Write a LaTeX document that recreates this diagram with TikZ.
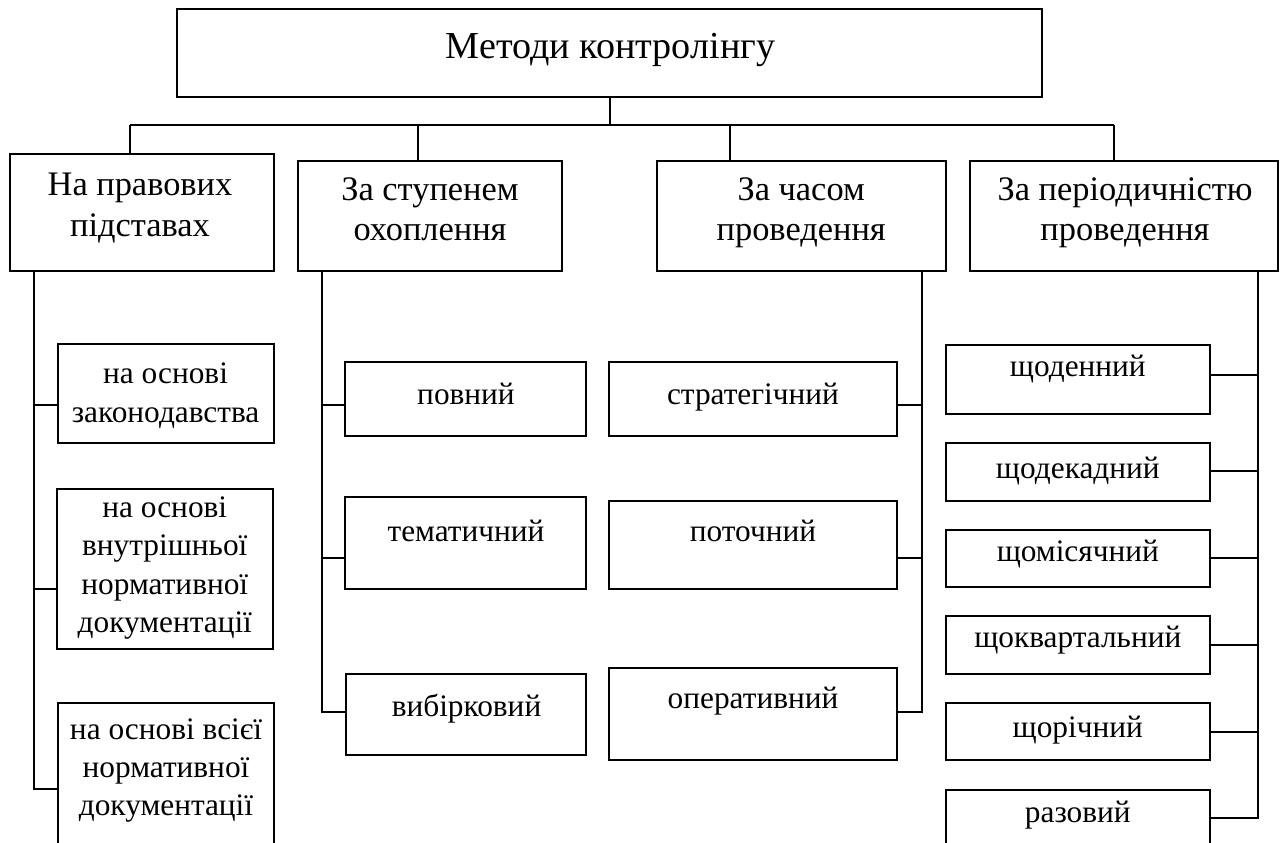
\documentclass[tikz,border=0pt]{standalone}
\usepackage{fontspec}
\setmainfont{Liberation Serif}
\usetikzlibrary{fit}
\newcommand{\txtlines}[1]{\begin{tabular}[t]{@{}c@{}}#1\end{tabular}}
\begin{document}
\begin{tikzpicture}[x=0.75pt,y=-0.75pt,
  box/.style={draw,line width=1.5pt,inner sep=0pt,rectangle},
  wire/.style={line width=1.5pt},
  lbl/.style={anchor=base,inner sep=0pt},
  titlefont/.style={font=\fontsize{28.6pt}{32pt}\selectfont},
  groupfont/.style={font=\fontsize{25.8pt}{30.5pt}\selectfont},
  itemfont/.style={font=\fontsize{23.5pt}{29.5pt}\selectfont}]
\useasboundingbox (0,0) rectangle (1286,843);

% root
\node[box,fit={(177.4,9.3) (1041.7,96.7)}] (root) {};
\node[lbl,titlefont] (root-t) at (610.5,58.3) {Методи контролінгу};

% groups
\node[box,fit={(9.5,154) (273.6,270.7)}] (a) {};
\node[box,fit={(297.5,161) (562,271)}] (b) {};
\node[box,fit={(656.5,161) (946,271)}] (c) {};
\node[box,fit={(970,161) (1278,270.5)}] (d) {};
\node[lbl,groupfont] (a-t) at (140,195.7) {\txtlines{На правових\\підставах}};
\node[lbl,groupfont] (b-t) at (430,200) {\txtlines{За ступенем\\охоплення}};
\node[lbl,groupfont] (c-t) at (801.2,200) {\txtlines{За часом\\проведення}};
\node[lbl,groupfont] (d-t) at (1125,200) {\txtlines{За періодичністю\\проведення}};

% items of group a
\node[box,fit={(57.6,344) (273.6,442.8)}] (a1) {};
\node[box,fit={(56.8,488.5) (272.8,649)}] (a2) {};
\node[box,fit={(57.7,703) (274.3,860)}] (a3) {};
\node[lbl,itemfont] (a1-t) at (165.6,383.3) {\txtlines{на основі\\законодавства}};
\node[lbl,itemfont,font=\fontsize{23.5pt}{28.9pt}\selectfont] (a2-t) at (164.8,517) {\txtlines{на основі\\внутрішньої\\нормативної\\документації}};
\node[lbl,itemfont,font=\fontsize{23.5pt}{28.5pt}\selectfont] (a3-t) at (166,739) {\txtlines{на основі всієї\\нормативної\\документації}};

% items of group b
\node[box,fit={(344.5,362.3) (585.7,435.9)}] (b1) {};
\node[box,fit={(344.5,497.3) (585.7,589.3)}] (b2) {};
\node[box,fit={(345.7,674.3) (585.7,755.2)}] (b3) {};
\node[lbl,itemfont] (b1-t) at (466,404.7) {повний};
\node[lbl,itemfont] (b2-t) at (466,541) {тематичний};
\node[lbl,itemfont] (b3-t) at (466.5,716) {вибірковий};

% items of group c
\node[box,fit={(609.3,362.3) (896.7,435.7)}] (c1) {};
\node[box,fit={(609.3,500.7) (896.7,589.3)}] (c2) {};
\node[box,fit={(609.3,667.7) (896.7,760.3)}] (c3) {};
\node[lbl,itemfont] (c1-t) at (753,404.7) {стратегічний};
\node[lbl,itemfont] (c2-t) at (753,541) {поточний};
\node[lbl,itemfont] (c3-t) at (753,708.7) {оперативний};

% items of group d
\node[box,fit={(945.7,344.8) (1210,413.6)}] (d1) {};
\node[box,fit={(945.7,443.2) (1210,500.5)}] (d2) {};
\node[box,fit={(945.7,529.8) (1210,587.1)}] (d3) {};
\node[box,fit={(945.7,616) (1210,673.7)}] (d4) {};
\node[box,fit={(945.7,703.3) (1210,760.3)}] (d5) {};
\node[box,fit={(945.7,789.5) (1210,860)}] (d6) {};
\node[lbl,itemfont] (d1-t) at (1077.8,376) {щоденний};
\node[lbl,itemfont] (d2-t) at (1077.8,478) {щодекадний};
\node[lbl,itemfont] (d3-t) at (1077.8,561.7) {щомісячний};
\node[lbl,itemfont] (d4-t) at (1077.8,647) {щоквартальний};
\node[lbl,itemfont] (d5-t) at (1077.8,737) {щорічний};
\node[lbl,itemfont] (d6-t) at (1077.8,822) {разовий};

% top-level bus
\coordinate (busL) at (129.8,125);
\coordinate (busR) at (1113.8,125);
\coordinate (jb) at (418,125);
\coordinate (jc) at (729.8,125);
\draw[wire] (root.south) -- (root.south |- busL);
\draw[wire] (busL) -- (busR);
\draw[wire] (busL) -- (busL |- a.north);
\draw[wire] (jb) -- (jb |- b.north);
\draw[wire] (jc) -- (jc |- c.north);
\draw[wire] (busR) -- (busR |- d.north);

% spine of group a
\coordinate (ka1) at (33.6,405);
\coordinate (ka2) at (33.6,589);
\coordinate (ka3) at (33.6,789);
\draw[wire] (ka3 |- a.south) -- (ka3) -- (ka3 -| a3.west);
\draw[wire] (ka1) -- (ka1 -| a1.west);
\draw[wire] (ka2) -- (ka2 -| a2.west);

% spine of group b
\coordinate (kb1) at (322,405);
\coordinate (kb2) at (322,558.3);
\coordinate (kb3) at (322,711.7);
\draw[wire] (kb3 |- b.south) -- (kb3) -- (kb3 -| b3.west);
\draw[wire] (kb1) -- (kb1 -| b1.west);
\draw[wire] (kb2) -- (kb2 -| b2.west);

% spine of group c
\coordinate (kc1) at (922,405);
\coordinate (kc2) at (922,558.3);
\coordinate (kc3) at (922,711.7);
\draw[wire] (kc3 |- c.south) -- (kc3) -- (kc3 -| c3.east);
\draw[wire] (kc1) -- (kc1 -| c1.east);
\draw[wire] (kc2) -- (kc2 -| c2.east);

% spine of group d
\coordinate (kd1) at (1257.5,375);
\coordinate (kd2) at (1257.5,471.3);
\coordinate (kd3) at (1257.5,558.3);
\coordinate (kd4) at (1257.5,645.2);
\coordinate (kd5) at (1257.5,731.8);
\coordinate (kd6) at (1257.5,818);
\draw[wire] (kd6 |- d.south) -- (kd6) -- (kd6 -| d6.east);
\draw[wire] (kd1) -- (kd1 -| d1.east);
\draw[wire] (kd2) -- (kd2 -| d2.east);
\draw[wire] (kd3) -- (kd3 -| d3.east);
\draw[wire] (kd4) -- (kd4 -| d4.east);
\draw[wire] (kd5) -- (kd5 -| d5.east);
\end{tikzpicture}
\end{document}
